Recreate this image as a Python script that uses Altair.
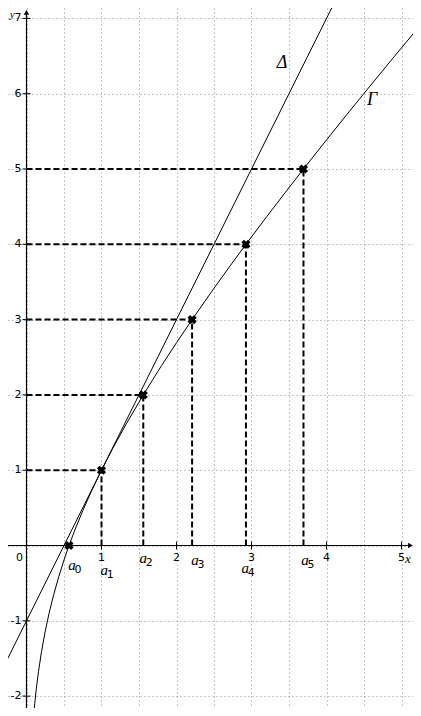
import altair as alt
import numpy as np
import pandas as pd

# ---- data ----
# curve Gamma (points along the curve)
gamma_x = [0.095, 0.11, 0.13, 0.16, 0.20, 0.25, 0.30, 0.36, 0.43, 0.50, 0.567, 0.65, 0.75, 0.87,
           1.0, 1.15, 1.33, 1.557, 1.8, 2.0, 2.208, 2.5, 2.7, 2.926, 3.2, 3.45, 3.693, 4.0,
           4.3, 4.6, 4.9, 5.26]
gamma_y = [-2.259, -2.097, -1.910, -1.673, -1.409, -1.136, -0.904, -0.662, -0.414, -0.193, 0.0,
           0.219, 0.462, 0.731, 1.0, 1.290, 1.615, 2.0, 2.388, 2.693, 3.0, 3.416, 3.693, 4.0,
           4.363, 4.688, 5.0, 5.386, 5.759, 6.126, 6.489, 6.920]
# tangent line Delta
delta_x = [-0.40, 4.20]
delta_y = [-1.80, 7.40]
# sequence points a_n on Gamma
a_x = [0.567, 1.0, 1.557, 2.208, 2.926, 3.693]
a_y = [0, 1, 2, 3, 4, 5]
a_names = ["0", "1", "2", "3", "4", "5"]
# tick labels
x_ticks = [1, 2, 3, 4, 5]
y_ticks = [-2, -1, 1, 2, 3, 4, 5, 6, 7]

# ---- layout ----
X_DOM = [(8 - 26.5) / 75.0, (413 - 26.5) / 75.0]
Y_DOM = [-(708 - 545.5) / 75.3, (545.5 - 8) / 75.3]
# label placement for a_n (data units, below the axis)
a_lab_dx = [0.04, 0.035, 0.0, 0.04, -0.01, 0.02]
a_lab_y = [-0.265, -0.33, -0.17, -0.19, -0.305, -0.19]

xs = alt.Scale(domain=X_DOM, nice=False, zero=False)
ys = alt.Scale(domain=Y_DOM, nice=False, zero=False)

grid_x = list(np.arange(-0.25, 5.26, 0.25))
grid_y = list(np.arange(-2.0, 7.01, 0.25))

gdf = pd.DataFrame({"x": gamma_x, "y": gamma_y})
ddf = pd.DataFrame({"x": delta_x, "y": delta_y})
adf = pd.DataFrame({"x": a_x, "y": a_y, "n": a_names, "zero": [0.0] * 6,
                    "lx": [a + d for a, d in zip(a_x, a_lab_dx)], "ly": a_lab_y})
dash_df = adf[adf["y"] > 0]

FONT = "DejaVu Sans"
SERIF = "Liberation Serif"

gamma = alt.Chart(gdf).mark_line(color="black", strokeWidth=1, clip=True).encode(
    x=alt.X("x:Q", scale=xs, axis=alt.Axis(values=grid_x, grid=True, labels=False, ticks=False,
                                          domain=False, title="", gridColor="#8c8c8c",
                                          gridDash=[1, 3], gridWidth=1)),
    y=alt.Y("y:Q", scale=ys, axis=alt.Axis(values=grid_y, grid=True, labels=False, ticks=False,
                                          domain=False, title="", gridColor="#8c8c8c",
                                          gridDash=[1, 3], gridWidth=1)),
    order="x:Q",
)

delta = alt.Chart(ddf).mark_line(color="black", strokeWidth=1, clip=True).encode(
    x=alt.X("x:Q", scale=xs), y=alt.Y("y:Q", scale=ys))

hdash = alt.Chart(dash_df).mark_rule(color="black", strokeWidth=2, strokeDash=[6, 3]).encode(
    x=alt.X("zero:Q", scale=xs), x2="x:Q", y=alt.Y("y:Q", scale=ys))
vdash = alt.Chart(dash_df).mark_rule(color="black", strokeWidth=2, strokeDash=[6, 3]).encode(
    x=alt.X("x:Q", scale=xs), y=alt.Y("zero:Q", scale=ys), y2="y:Q")

xaxis = alt.Chart(pd.DataFrame({"a": [0]})).mark_rule(color="black", strokeWidth=1.2).encode(
    x=alt.datum(X_DOM[0]), x2=alt.datum(5.12), y=alt.datum(0))
yaxis = alt.Chart(pd.DataFrame({"a": [0]})).mark_rule(color="black", strokeWidth=1.2).encode(
    y=alt.datum(Y_DOM[0]), y2=alt.datum(7.1), x=alt.datum(0))
xarrow = alt.Chart(pd.DataFrame({"a": [0]})).mark_point(
    shape="triangle-right", filled=True, color="black", size=30, opacity=1).encode(
    x=alt.datum(5.12), y=alt.datum(0))
yarrow = alt.Chart(pd.DataFrame({"a": [0]})).mark_point(
    shape="triangle-up", filled=True, color="black", size=30, opacity=1).encode(
    x=alt.datum(0), y=alt.datum(7.08))

xt = pd.DataFrame({"v": x_ticks, "t": [str(v) for v in x_ticks], "zero": 0.0})
yt = pd.DataFrame({"v": y_ticks, "t": [str(v) for v in y_ticks], "zero": 0.0})

xtick = alt.Chart(xt).mark_tick(orient="vertical", size=8, thickness=1, color="black", opacity=1).encode(
    x=alt.X("v:Q", scale=xs), y=alt.Y("zero:Q", scale=ys))
ytick = alt.Chart(yt).mark_tick(orient="horizontal", size=8, thickness=1, color="black", opacity=1).encode(
    y=alt.Y("v:Q", scale=ys), x=alt.X("zero:Q", scale=xs))

xlab = alt.Chart(xt).mark_text(font=FONT, fontSize=11, baseline="top", align="center", dy=6, color="black").encode(
    x=alt.X("v:Q", scale=xs), y=alt.Y("zero:Q", scale=ys), text="t:N")
ylab = alt.Chart(yt).mark_text(font=FONT, fontSize=11, baseline="middle", align="right", dx=-5, color="black").encode(
    y=alt.Y("v:Q", scale=ys), x=alt.X("zero:Q", scale=xs), text="t:N")

misc = pd.DataFrame({
    "x": [-0.02, 5.085, -0.19, 3.407, 4.607],
    "y": [0.0, -0.175, Y_DOM[1], 6.408, 5.916],
    "t": ["0", "x", "y", "Δ", "Γ"],
})
zero_lab = alt.Chart(misc.iloc[[0]]).mark_text(font=FONT, fontSize=11, baseline="top", align="right",
                                               dx=-2, dy=6, color="black").encode(
    x=alt.X("x:Q", scale=xs), y=alt.Y("y:Q", scale=ys), text="t:N")
x_lab = alt.Chart(misc.iloc[[1]]).mark_text(font=SERIF, fontSize=13, fontStyle="italic",
                                            baseline="middle", align="center", color="black").encode(
    x=alt.X("x:Q", scale=xs), y=alt.Y("y:Q", scale=ys), text="t:N")
y_lab = alt.Chart(misc.iloc[[2]]).mark_text(font=SERIF, fontSize=11, fontStyle="italic",
                                            baseline="top", align="center", dy=1, color="black").encode(
    x=alt.X("x:Q", scale=xs), y=alt.Y("y:Q", scale=ys), text="t:N")
greek = alt.Chart(misc.iloc[[3, 4]]).mark_text(font=SERIF, fontSize=18, fontStyle="italic",
                                               baseline="middle", align="center", color="black").encode(
    x=alt.X("x:Q", scale=xs), y=alt.Y("y:Q", scale=ys), text="t:N")

marks = alt.Chart(adf).mark_point(shape="cross", angle=45, filled=True, color="black",
                                  size=85, opacity=1).encode(
    x=alt.X("x:Q", scale=xs), y=alt.Y("y:Q", scale=ys))

a_letter = alt.Chart(adf).mark_text(font=SERIF, fontSize=15, fontStyle="italic", baseline="middle",
                                    align="center", color="black").encode(
    x=alt.X("lx:Q", scale=xs), y=alt.Y("ly:Q", scale=ys), text=alt.value("a"))
a_sub = alt.Chart(adf).mark_text(font=FONT, fontSize=11, baseline="middle", align="center",
                                 dx=6, dy=5, color="black").encode(
    x=alt.X("lx:Q", scale=xs), y=alt.Y("ly:Q", scale=ys), text="n:N")

chart = alt.layer(
    gamma, delta, hdash, vdash, xaxis, yaxis, xarrow, yarrow, xtick, ytick,
    xlab, ylab, zero_lab, x_lab, y_lab, greek, marks, a_letter, a_sub,
).properties(
    width=405, height=700, padding=0, autosize=alt.AutoSizeParams(type="none"),
    background="white",
).configure_view(stroke="transparent")

chart.save("out.html", embed_options={"renderer": "svg", "actions": False})
